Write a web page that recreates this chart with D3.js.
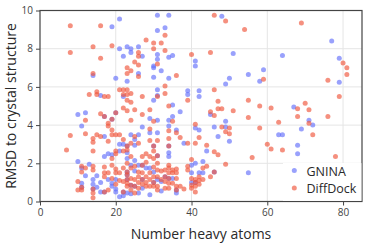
<!DOCTYPE html>
<html>
<head>
<meta charset="utf-8">
<script src="https://cdn.jsdelivr.net/npm/d3@7"></script>
<style>
  body { margin: 0; background: #fff; }
  text { font-family: "Open Sans", sans-serif; }
</style>
</head>
<body>
<div id="chart"></div>
<script>
// [heavy atoms, rmsd]
const gninaPoints = [
  [10,4.55],[10,2.1],[11,3.95],[11,1.75],[11,0.95],[11,0.75],[12,4.65],[12,1.35],[13,1.95],[14,6.6],[14,1.15],[14,0.9],[14,0.65],[15,1.35],[15,0.75],
  [16,5.55],[16,1.0],[16,0.5],[17,4.45],[17,3.4],[17,2.35],[17,0.5],[18,2.5],[18,1.15],[19,9.15],[19,4.3],[19,2.45],[19,0.95],[19,0.8],
  [20,6.45],[20,4.65],[20,1.15],[20,0.65],[20,0.5],[21,9.55],[21,8.0],[21,3.0],[21,2.65],[21,0.25],[22,7.6],[22,5.5],[22,3.0],[22,0.5],[22,0.3],
  [23,8.1],[23,6.3],[23,2.9],[23,2.55],[23,2.25],[23,1.55],[23,1.4],[23,1.15],[23,0.45],[24,8.0],[24,7.8],[24,3.5],[24,1.9],[24,0.85],[24,0.4],
  [25,3.25],[25,2.95],[25,2.15],[25,1.6],[25,0.8],[26,8.1],[26,6.7],[26,3.5],[26,1.9],[26,0.45],[27,7.6],[27,3.9],[27,1.9],[27,1.15],[27,0.7],
  [28,1.75],[29,4.35],[29,3.6],[29,1.75],[29,0.35],[30,7.1],[30,7.0],[30,6.5],[30,5.3],[30,2.9],[30,1.55],[30,1.0],
  [31,9.75],[31,8.95],[31,7.7],[31,7.45],[31,5.85],[31,5.55],[31,4.25],[31,3.6],[31,2.4],[31,1.15],[32,6.85],[32,1.05],[32,0.55],[33,9.1],[33,1.3],
  [34,9.75],[34,7.55],[34,6.45],[34,4.25],[34,3.95],[34,2.9],[34,2.55],[34,2.35],[34,1.2],[35,7.65],[35,5.05],[35,4.45],[35,1.2],
  [36,3.75],[36,0.6],[36,0.45],[37,4.7],[38,3.05],[39,5.8],[39,5.6],[40,1.9],[40,1.5],[40,1.0],[41,7.35],[41,7.1],[41,3.85],[41,2.0],[41,1.0],
  [42,5.8],[42,5.5],[42,3.75],[42,1.5],[43,2.1],[43,1.5],[44,2.65],[45,4.55],[46,3.9],[46,1.55],[47,3.4],[48,9.7],[49,6.15],[49,4.2],[49,3.9],
  [50,6.45],[50,3.15],[51,7.75],[55,6.65],[55,1.5],[58,6.3],[59,6.9],[63,3.5],[64,7.65],[64,3.5],[67,4.95],[68,2.95],[68,2.5],[69,3.8],
  [71,4.25],[72,4.0],[77,8.4],[79,7.5],[79,6.25]
];

const diffdockPoints = [
  [7,2.7],[8,9.2],[8,7.8],[8,3.45],[10,1.05],[10,0.6],[11,1.85],[11,1.55],[11,0.75],[11,0.6],[12,4.25],[12,3.55],[12,1.75],[13,5.6],
  [14,8.1],[14,6.7],[14,3.3],[14,3.1],[14,2.65],[14,1.85],[14,1.65],[14,0.65],[14,0.45],[14,0.2],[15,5.75],[15,5.6],[15,3.5],
  [16,9.2],[16,7.5],[16,4.6],[16,3.4],[17,5.5],[17,4.45],[17,1.8],[17,1.5],[17,1.3],[17,0.5],[18,5.5],[18,4.1],[18,3.95],[18,3.15],[18,1.5],[18,0.6],
  [19,8.15],[19,4.3],[19,3.75],[19,3.5],[19,2.25],[19,1.9],[19,1.2],[20,4.65],[20,3.5],[20,2.65],[20,2.5],[20,1.7],[20,1.5],[20,0.9],
  [21,5.85],[21,3.5],[21,1.5],[21,1.1],[22,5.85],[22,5.6],[22,4.9],[22,3.25],[22,2.65],[22,1.75],[22,1.05],[22,0.5],
  [23,7.0],[23,6.7],[23,5.85],[23,5.6],[23,5.3],[23,4.75],[23,2.9],[23,2.7],[23,2.0],[23,1.55],[23,1.4],[23,1.15],[23,0.95],[23,0.8],
  [24,6.85],[24,5.65],[24,5.2],[24,4.25],[24,3.05],[24,2.35],[24,1.75],[24,1.2],[24,0.85],[24,0.6],
  [25,7.3],[25,4.8],[25,3.4],[25,1.85],[25,1.15],[25,0.8],[25,0.45],[26,7.8],[26,7.6],[26,7.15],[26,6.55],[26,3.05],[26,1.55],[26,1.3],[26,1.0],[26,0.7],
  [27,5.5],[27,4.55],[27,2.35],[27,1.9],[27,1.5],[27,1.15],[27,0.9],[28,8.45],[28,2.5],[28,2.05],[28,1.3],[28,1.0],[28,0.8],
  [29,4.8],[29,3.8],[29,3.2],[29,2.35],[29,1.5],[29,1.15],[29,0.8],[30,8.3],[30,8.0],[30,4.2],[30,2.9],[30,2.65],[30,2.25],[30,1.8],[30,1.3],[30,1.0],[30,0.8],
  [31,7.2],[31,5.5],[31,3.2],[31,2.4],[31,2.0],[31,1.65],[31,1.3],[31,0.8],[31,0.6],[32,8.3],[32,1.6],[32,1.15],
  [33,8.7],[33,7.9],[33,6.05],[33,5.65],[33,1.65],[33,1.3],[33,1.05],[33,0.7],[34,5.0],[34,3.7],[34,3.3],[34,2.9],[34,1.9],[34,1.75],[34,1.5],[34,1.2],[34,0.95],[34,0.7],
  [35,4.2],[35,1.65],[35,1.5],[35,0.95],[36,6.6],[36,3.6],[36,1.7],[36,1.5],[36,1.2],[36,0.8],[36,0.6],[37,3.35],[37,0.8],[38,0.65],
  [39,5.3],[39,3.05],[39,1.85],[39,1.65],[40,7.7],[40,2.2],[40,1.2],[40,0.85],[40,0.7],[41,4.05],[41,3.05],[41,1.15],[41,1.0],[41,0.8],[41,0.5],
  [42,3.35],[42,1.3],[42,1.1],[42,0.9],[43,1.75],[43,1.15],[44,2.95],[44,1.85],[45,7.8],[45,4.7],[45,1.3],
  [46,9.75],[46,5.85],[46,4.5],[46,2.6],[46,1.55],[47,5.25],[47,4.85],[47,2.45],[48,4.85],[48,3.9],[49,9.45],[49,3.65],[49,1.95],
  [50,3.85],[50,3.55],[51,4.75],[54,9.0],[55,5.3],[55,4.4],[56,2.3],[58,5.0],[58,3.85],[59,6.4],[60,3.0],[61,4.9],[61,2.75],
  [63,4.15],[64,2.7],[68,4.85],[68,4.45],[69,9.35],[70,5.15],[71,4.8],[71,4.1],[72,3.5],[76,6.35],[76,4.45],[78,2.35],[79,5.5],
  [80,7.25],[81,7.0],[81,6.65]
];

const xTicks = [0, 20, 40, 60, 80];
const yTicks = [0, 2, 4, 6, 8, 10];
const seriesNames = ["GNINA", "DiffDock"];
const seriesColors = ["#636efa", "#ef553b"];

const width = 366, height = 244;
const margin = {left: 40, right: 4, top: 10.5, bottom: 42.5};

const svg = d3.select("#chart").append("svg")
    .attr("width", width)
    .attr("height", height);

const x = d3.scaleLinear().domain([0, 85]).range([margin.left, width - margin.right]);
const y = d3.scaleLinear().domain([0, 10]).range([height - margin.bottom, margin.top]);

// grid
svg.append("g").selectAll("line")
    .data(xTicks.filter(d => d > 0))
    .enter().append("line")
    .attr("x1", d => x(d)).attr("x2", d => x(d))
    .attr("y1", y(0)).attr("y2", y(10))
    .attr("stroke", "#e5e5e5");
svg.append("g").selectAll("line")
    .data(yTicks.filter(d => d > 0 && d < 10))
    .enter().append("line")
    .attr("y1", d => y(d)).attr("y2", d => y(d))
    .attr("x1", x(0)).attr("x2", x(85))
    .attr("stroke", "#e5e5e5");

// points
const series = [gninaPoints, diffdockPoints];
series.forEach((pts, i) => {
    svg.append("g").selectAll("circle")
        .data(pts)
        .enter().append("circle")
        .attr("cx", d => x(d[0]))
        .attr("cy", d => y(d[1]))
        .attr("r", 2.5)
        .attr("fill", seriesColors[i])
        .attr("fill-opacity", 0.65);
});

// axes
const xAxis = svg.append("g")
    .attr("transform", `translate(0,${y(0)})`)
    .call(d3.axisBottom(x).tickValues(xTicks).tickSize(4).tickPadding(3));
const yAxis = svg.append("g")
    .attr("transform", `translate(${x(0)},0)`)
    .call(d3.axisLeft(y).tickValues(yTicks).tickSize(4).tickPadding(3));
[xAxis, yAxis].forEach(a => {
    a.select(".domain").remove();
    a.selectAll("line").attr("stroke", "#444");
    a.selectAll("text").attr("fill", "#444").style("font-size", "10px").style("font-family", "'Open Sans', sans-serif");
});

// frame
svg.append("rect")
    .attr("x", x(0)).attr("y", y(10))
    .attr("width", x(85) - x(0)).attr("height", y(0) - y(10))
    .attr("fill", "none")
    .attr("stroke", "#444")
    .attr("stroke-width", 1.2);

// titles
svg.append("text")
    .attr("x", (x(0) + x(85)) / 2).attr("y", 239)
    .attr("text-anchor", "middle")
    .attr("fill", "#2a2a2a")
    .style("font-size", "14px")
    .text("Number heavy atoms");
svg.append("text")
    .attr("transform", `translate(16,${(y(0) + y(10)) / 2}) rotate(-90)`)
    .attr("text-anchor", "middle")
    .attr("fill", "#2a2a2a")
    .style("font-size", "14px")
    .text("RMSD to crystal structure");

// legend
const legend = svg.append("g");
legend.append("rect")
    .attr("x", 283).attr("y", 163)
    .attr("width", x(85) - 283 - 0.6).attr("height", y(0) - 163 - 0.6)
    .attr("fill", "#fff");
seriesNames.forEach((name, i) => {
    const ly = 170.5 + i * 17.6;
    legend.append("circle")
        .attr("cx", 294.3).attr("cy", ly)
        .attr("r", 2.5)
        .attr("fill", seriesColors[i])
        .attr("fill-opacity", 0.65);
    legend.append("text")
        .attr("x", 306.5).attr("y", ly + 5)
        .attr("fill", "#2a2a2a")
        .style("font-size", "12.5px")
        .text(name);
});
</script>
</body>
</html>
